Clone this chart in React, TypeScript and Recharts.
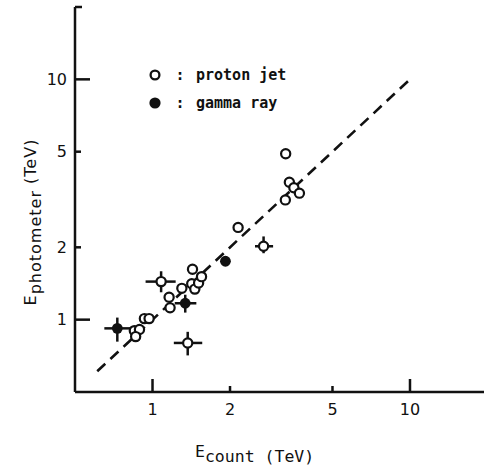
import { ErrorBar, Label, Legend, ReferenceLine, Scatter, ScatterChart, XAxis, YAxis } from "recharts";

// E_count vs E_photometer (TeV), both on log axes
const protonJet = [
  { x: 0.85, y: 0.9 },
  { x: 0.89, y: 0.91 },
  { x: 0.86, y: 0.85 },
  { x: 0.93, y: 1.01 },
  { x: 0.97, y: 1.01 },
  { x: 1.16, y: 1.24 },
  { x: 1.17, y: 1.12 },
  { x: 1.3, y: 1.35 },
  { x: 1.43, y: 1.62 },
  { x: 1.42, y: 1.41 },
  { x: 1.46, y: 1.34 },
  { x: 1.51, y: 1.42 },
  { x: 1.55, y: 1.51 },
  { x: 2.15, y: 2.42 },
  { x: 3.29, y: 4.9 },
  { x: 3.4, y: 3.73 },
  { x: 3.54, y: 3.54 },
  { x: 3.72, y: 3.36 },
  { x: 3.28, y: 3.15 }
];

const protonJetWithErrors = [
  { x: 1.08, y: 1.44, xLo: 0.94, xHi: 1.23, yLo: 1.3, yHi: 1.59 },
  { x: 1.37, y: 0.8, xLo: 1.21, xHi: 1.56, yLo: 0.71, yHi: 0.89 },
  { x: 2.7, y: 2.02, xLo: 2.5, xHi: 2.94, yLo: 1.89, yHi: 2.22 }
];

const gammaRay = [{ x: 1.92, y: 1.75 }];

const gammaRayWithErrors = [
  { x: 0.73, y: 0.92, xLo: 0.65, xHi: 0.82, yLo: 0.81, yHi: 1.02 },
  { x: 1.34, y: 1.17, xLo: 1.22, xHi: 1.48, yLo: 1.07, yHi: 1.27 }
];

const equalityLine = [
  { x: 0.61, y: 0.61 },
  { x: 10, y: 10 }
];

const xTicks = [1, 2, 5, 10];
const yTicks = [1, 2, 5, 10, 20];
const majorTicks = [1, 10];

const legendItems = [
  { label: "proton jet", filled: false },
  { label: "gamma ray", filled: true }
];

const INK = "#111";
const SANS = "DejaVu Sans";
const MONO = "DejaVu Sans Mono";

// ErrorBar wants offsets from the value, not the bounds
const withErrors = (pts: typeof protonJetWithErrors) =>
  pts.map((p) => ({
    x: p.x,
    y: p.y,
    xErr: [p.x - p.xLo, p.xHi - p.x],
    yErr: [p.y - p.yLo, p.yHi - p.y]
  }));

const OpenDot = (p: any) => (
  <circle cx={p.cx} cy={p.cy} r={4.6} fill="#fff" stroke={INK} strokeWidth={2.2} />
);
const FilledDot = (p: any) => <circle cx={p.cx} cy={p.cy} r={5.4} fill={INK} />;

// ticks point into the plot, labels sit outside
function XTick(props: any) {
  const { x, y, payload } = props;
  const len = majorTicks.includes(payload.value) ? 13 : 6;
  return (
    <g>
      <line x1={x} x2={x} y1={y} y2={y - len} stroke={INK} strokeWidth={2.5} />
      <text x={x} y={y + 23} textAnchor="middle" fontFamily={SANS} fontSize={16} fill={INK}>
        {payload.value}
      </text>
    </g>
  );
}

function YTick(props: any) {
  const { x, y, payload } = props;
  const top = payload.value === 20;
  const len = top ? 7 : majorTicks.includes(payload.value) ? 15 : 6;
  return (
    <g>
      <line x1={x} x2={x + len} y1={y} y2={y} stroke={INK} strokeWidth={2.5} />
      {!top && (
        <text x={x - 8} y={y} dy="0.36em" textAnchor="end" fontFamily={SANS} fontSize={16} fill={INK}>
          {payload.value}
        </text>
      )}
    </g>
  );
}

function LegendBox() {
  return (
    <svg width={200} height={60}>
      {legendItems.map((item, i) => {
        const cy = 15 + i * 28;
        return (
          <g key={item.label}>
            {item.filled ? (
              <circle cx={15} cy={cy} r={5.6} fill={INK} />
            ) : (
              <circle cx={15} cy={cy} r={4.4} fill="#fff" stroke={INK} strokeWidth={2.3} />
            )}
            <text x={40} y={cy} dy="0.36em" textAnchor="middle" fontFamily={MONO} fontSize={15} fontWeight="bold" fill={INK}>
              :
            </text>
            <text x={56} y={cy} dy="0.36em" fontFamily={MONO} fontSize={15} fontWeight="bold" fill={INK}>
              {item.label}
            </text>
          </g>
        );
      })}
    </svg>
  );
}

export default function App() {
  return (
    <div
      style={{
        position: "fixed",
        left: 0,
        top: 0,
        width: 484,
        height: 467,
        overflow: "hidden",
        background: "#fff"
      }}
    >
      <ScatterChart width={490} height={467} margin={{ top: 7, right: 2.5, bottom: 0, left: 0 }}>
        <XAxis
          type="number"
          dataKey="x"
          scale="log"
          domain={[0.5, 20]}
          allowDataOverflow
          ticks={xTicks}
          interval={0}
          tickSize={0}
          tickMargin={0}
          tick={<XTick />}
          height={75}
          axisLine={{ stroke: INK, strokeWidth: 2.5 }}
        >
          <Label
            content={(p: any) => (
              <text x={p.viewBox.x + 120} y={p.viewBox.y + 65} fontFamily={MONO} fontSize={16.5} fill={INK}>
                <tspan>E</tspan>
                <tspan dy={5}>count (TeV)</tspan>
              </text>
            )}
          />
        </XAxis>
        <YAxis
          type="number"
          dataKey="y"
          scale="log"
          domain={[0.5, 20]}
          allowDataOverflow
          ticks={yTicks}
          interval={0}
          tickSize={0}
          tickMargin={0}
          tick={<YTick />}
          width={75}
          axisLine={{ stroke: INK, strokeWidth: 2.5 }}
        >
          <Label
            content={() => (
              <text
                x={36}
                y={222}
                transform="rotate(-90 36 222)"
                textAnchor="middle"
                fontFamily={SANS}
                fontSize={16}
                letterSpacing={1}
                fill={INK}
              >
                <tspan>E</tspan>
                <tspan dy={5}>photometer</tspan>
                <tspan dy={-5}>{"  (TeV)"}</tspan>
              </text>
            )}
          />
        </YAxis>
        <ReferenceLine
          segment={equalityLine}
          stroke={INK}
          strokeWidth={2.6}
          strokeDasharray="11 7"
        />
        <Scatter data={protonJet} shape={OpenDot} isAnimationActive={false} />
        <Scatter data={withErrors(protonJetWithErrors)} shape={OpenDot} isAnimationActive={false}>
          <ErrorBar dataKey="xErr" direction="x" width={0} stroke={INK} strokeWidth={2.5} />
          <ErrorBar dataKey="yErr" direction="y" width={0} stroke={INK} strokeWidth={2.5} />
        </Scatter>
        <Scatter data={gammaRay} shape={FilledDot} isAnimationActive={false} />
        <Scatter data={withErrors(gammaRayWithErrors)} shape={FilledDot} isAnimationActive={false}>
          <ErrorBar dataKey="xErr" direction="x" width={0} stroke={INK} strokeWidth={2.5} />
          <ErrorBar dataKey="yErr" direction="y" width={0} stroke={INK} strokeWidth={2.5} />
        </Scatter>
        <Legend
          layout="vertical"
          align="center"
          verticalAlign="middle"
          content={() => <LegendBox />}
          wrapperStyle={{ position: "absolute", left: 140, top: 60, width: 200, height: 60 }}
        />
      </ScatterChart>
    </div>
  );
}
